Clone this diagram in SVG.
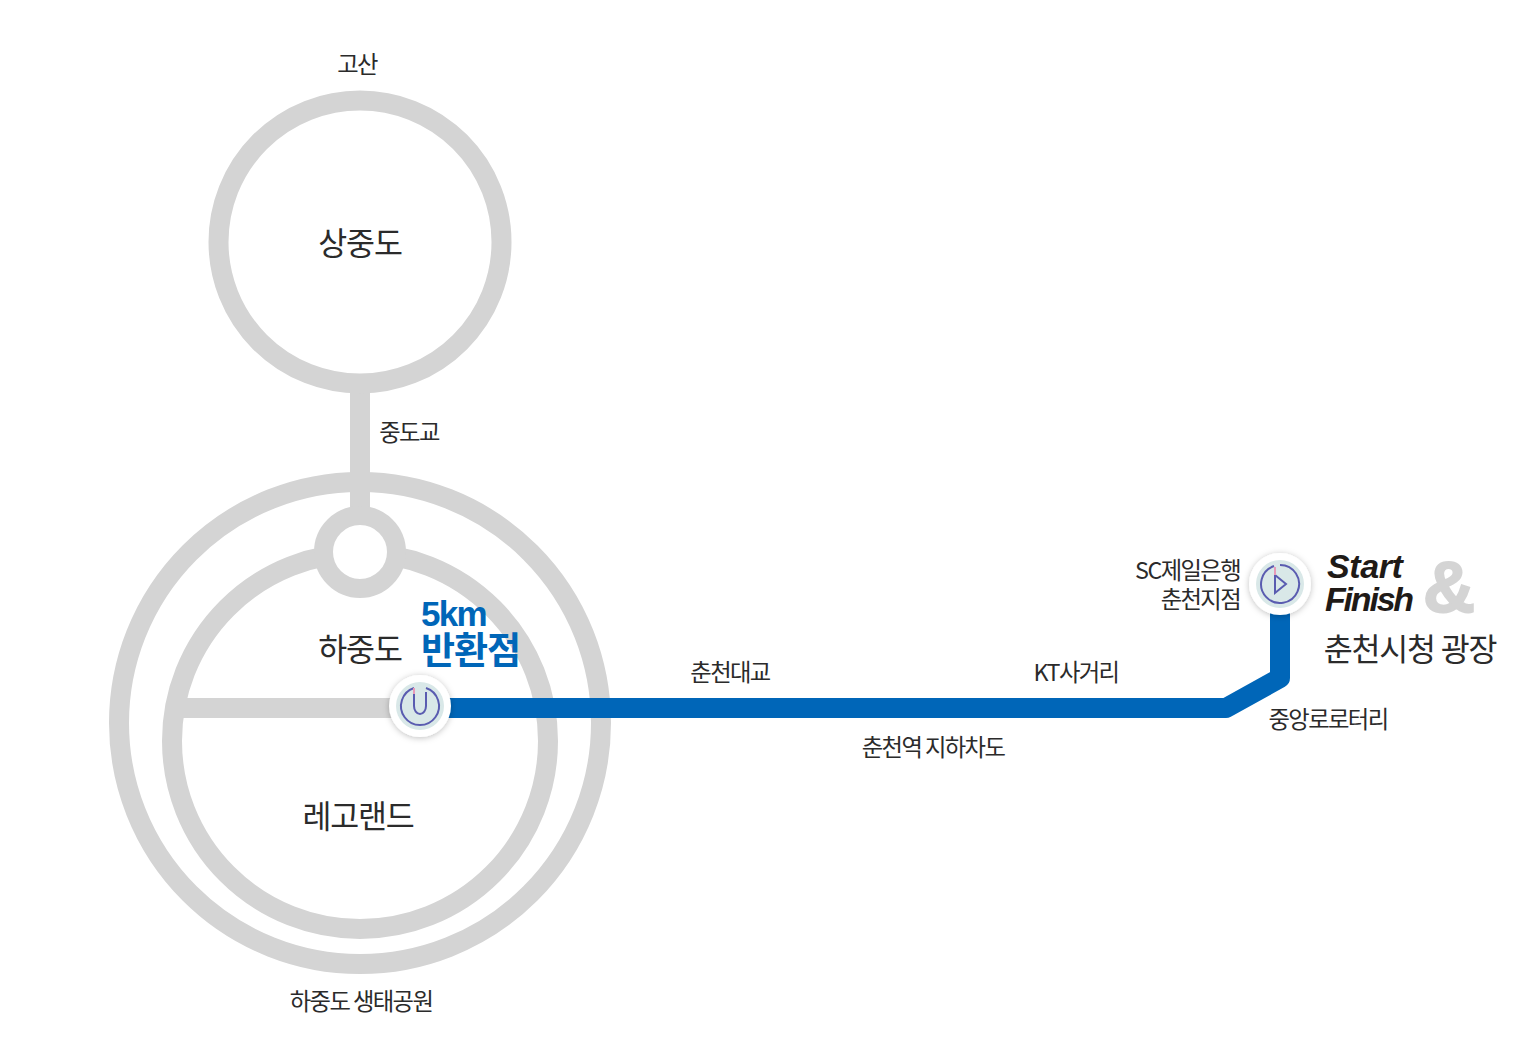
<svg xmlns="http://www.w3.org/2000/svg" width="1536" height="1062" viewBox="0 0 1536 1062">
<defs>
<style>
text{font-family:"Noto Sans CJK KR","Liberation Sans",sans-serif;fill:#2b2b2b;text-anchor:middle}
.s{font-size:23.300px;letter-spacing:-1.600px}
.m{font-size:31.500px;letter-spacing:-1.200px}
.g{fill:none;stroke:#d4d4d4;stroke-width:20}
.b{fill:none;stroke:#0066b8;stroke-width:20;stroke-linejoin:round}
.sf{font-family:"Liberation Sans",sans-serif;font-weight:700;font-style:italic;font-size:34px;letter-spacing:-1.700px;fill:#1f1a17;text-anchor:start}
.ic{fill:none;stroke:#5a5cb0;stroke-width:2}
</style>
<filter id="sh" x="-30%" y="-30%" width="160%" height="160%"><feDropShadow dx="0" dy="1" stdDeviation="3" flood-color="#000" flood-opacity=".25"/></filter>
</defs>
<rect width="1536" height="1062" fill="#fff"/>
<g id="connectors">
<circle class="g" cx="360" cy="723" r="241"/>
<circle class="g" cx="360" cy="741" r="188"/>
<path class="g" d="M360 390V510"/>
<path class="g" d="M180 708H420"/>
<path class="b" d="M440 708H1226L1280 678V600"/>
</g>
<g id="node-sangjungdo"><circle class="g" cx="360" cy="242" r="141.500"/><text class="m" x="360" y="255">상중도</text></g>
<g id="node-junction"><circle cx="360" cy="552" r="36.500" fill="#fff" stroke="#d4d4d4" stroke-width="19"/></g>
<g id="node-turn">
<circle cx="420" cy="706" r="31" fill="#fff" filter="url(#sh)"/>
<circle cx="420" cy="706" r="24" fill="#d9e8e8"/>
<path class="ic" d="M426 688a19 19 0 1 1-12 0"/>
<path class="ic" d="M414 694v12a6 8 0 0 0 12 0v-14"/>
<path d="M414 688v6" stroke="#e89ab8" stroke-width="2"/>
</g>
<g id="node-start">
<circle cx="1280" cy="584" r="31" fill="#fff" filter="url(#sh)"/>
<circle cx="1280" cy="584" r="24" fill="#d9e8e8"/>
<path class="ic" d="M1280 565a19 19 0 1 1-6 1"/>
<path class="ic" d="M1275 575l11 9-11 9z"/>
<path d="M1275 567v8" stroke="#e89ab8" stroke-width="2"/>
</g>
<g id="labels">
<text class="s" x="357" y="73">고산</text>
<text class="s" x="409" y="441">중도교</text>
<text class="m" x="360" y="661">하중도</text>
<text style="text-anchor:start;fill:#0066b8"><tspan x="421" y="626" style="font-family:'Liberation Sans',sans-serif;font-weight:700;font-size:35px;letter-spacing:-1.700px">5km</tspan><tspan x="421" y="664" style="font-size:37px;font-weight:700;letter-spacing:-1px">반환점</tspan></text>
<text class="m" x="358" y="828">레고랜드</text>
<text class="s" x="361" y="1010">하중도 생태공원</text>
<text class="s" x="730" y="681">춘천대교</text>
<text class="s" x="1076" y="681">KT사거리</text>
<text class="s" x="933" y="756">춘천역 지하차도</text>
<text class="s" x="1328" y="728">중앙로로터리</text>
<text class="s" style="text-anchor:end"><tspan x="1240" y="579">SC제일은행</tspan><tspan x="1240" y="608">춘천지점</tspan></text>
<text class="sf"><tspan x="1327" y="578" style="letter-spacing:-.400px">Start</tspan><tspan x="1325" y="611" style="letter-spacing:-2.200px">Finish</tspan></text>
<text x="1449" y="612" style="font-family:'Liberation Sans',sans-serif;font-weight:700;font-size:72px;fill:#d4d4d4;stroke:#d4d4d4;stroke-width:2">&amp;</text>
<text class="m" x="1410" y="661">춘천시청 광장</text>
</g>
</svg>
